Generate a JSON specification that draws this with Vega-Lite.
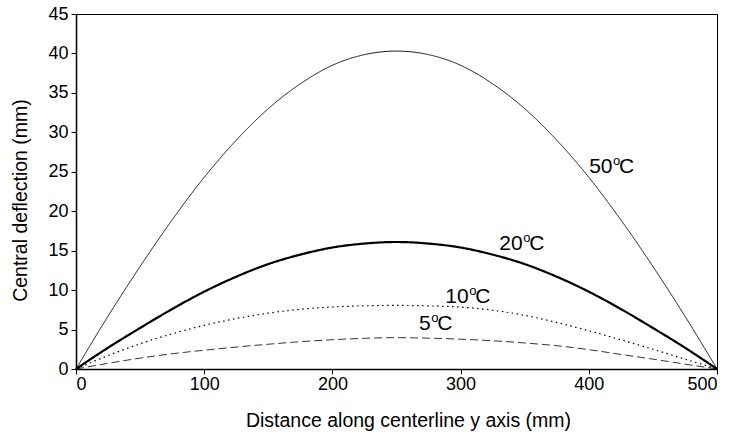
{
  "$schema": "https://vega.github.io/schema/vega-lite/v6.json",
  "width": 641,
  "height": 355,
  "autosize": {"type": "none"},
  "padding": {"left": 76, "top": 14, "right": 19, "bottom": 65},
  "background": "white",
  "config": {
    "font": "Liberation Sans",
    "view": {"stroke": "black", "strokeWidth": 1},
    "axis": {
      "grid": false,
      "domainColor": "black",
      "domainWidth": 1.5,
      "tickColor": "black",
      "tickWidth": 1,
      "tickSize": 5,
      "labelColor": "black",
      "titleColor": "black",
      "labelFontSize": 18,
      "titleFontSize": 19.5,
      "titleFontWeight": "normal",
      "labelFont": "Liberation Sans",
      "titleFont": "Liberation Sans"
    }
  },
  "datasets": {
    "curves": [
      {"x": 0, "d": 0, "series": "50"}, {"x": 25, "d": 6.7, "series": "50"}, {"x": 50, "d": 13.0, "series": "50"},
      {"x": 75, "d": 18.9, "series": "50"}, {"x": 100, "d": 24.3, "series": "50"}, {"x": 125, "d": 29.0, "series": "50"},
      {"x": 150, "d": 33.0, "series": "50"}, {"x": 175, "d": 36.15, "series": "50"}, {"x": 200, "d": 38.5, "series": "50"},
      {"x": 225, "d": 39.85, "series": "50"}, {"x": 250, "d": 40.3, "series": "50"}, {"x": 275, "d": 39.85, "series": "50"},
      {"x": 300, "d": 38.5, "series": "50"}, {"x": 325, "d": 36.15, "series": "50"}, {"x": 350, "d": 33.0, "series": "50"},
      {"x": 375, "d": 29.0, "series": "50"}, {"x": 400, "d": 24.3, "series": "50"}, {"x": 425, "d": 18.9, "series": "50"},
      {"x": 450, "d": 13.0, "series": "50"}, {"x": 475, "d": 6.7, "series": "50"}, {"x": 500, "d": 0, "series": "50"},

      {"x": 0, "d": 0, "series": "20"}, {"x": 25, "d": 2.7, "series": "20"}, {"x": 50, "d": 5.2, "series": "20"},
      {"x": 75, "d": 7.6, "series": "20"}, {"x": 100, "d": 9.8, "series": "20"}, {"x": 125, "d": 11.7, "series": "20"},
      {"x": 150, "d": 13.3, "series": "20"}, {"x": 175, "d": 14.5, "series": "20"}, {"x": 200, "d": 15.4, "series": "20"},
      {"x": 225, "d": 15.9, "series": "20"}, {"x": 250, "d": 16.1, "series": "20"}, {"x": 275, "d": 15.9, "series": "20"},
      {"x": 300, "d": 15.4, "series": "20"}, {"x": 325, "d": 14.5, "series": "20"}, {"x": 350, "d": 13.3, "series": "20"},
      {"x": 375, "d": 11.7, "series": "20"}, {"x": 400, "d": 9.8, "series": "20"}, {"x": 425, "d": 7.6, "series": "20"},
      {"x": 450, "d": 5.2, "series": "20"}, {"x": 475, "d": 2.7, "series": "20"}, {"x": 500, "d": 0, "series": "20"},

      {"x": 0, "d": 0, "series": "10"}, {"x": 25, "d": 1.7, "series": "10"}, {"x": 50, "d": 3.2, "series": "10"},
      {"x": 75, "d": 4.46, "series": "10"}, {"x": 100, "d": 5.53, "series": "10"}, {"x": 125, "d": 6.4, "series": "10"},
      {"x": 150, "d": 7.08, "series": "10"}, {"x": 175, "d": 7.57, "series": "10"}, {"x": 200, "d": 7.86, "series": "10"},
      {"x": 225, "d": 8.01, "series": "10"}, {"x": 250, "d": 8.06, "series": "10"}, {"x": 275, "d": 8.0, "series": "10"},
      {"x": 300, "d": 7.85, "series": "10"}, {"x": 325, "d": 7.45, "series": "10"}, {"x": 350, "d": 6.8, "series": "10"},
      {"x": 375, "d": 5.9, "series": "10"}, {"x": 400, "d": 4.85, "series": "10"}, {"x": 425, "d": 3.7, "series": "10"},
      {"x": 450, "d": 2.5, "series": "10"}, {"x": 475, "d": 1.25, "series": "10"}, {"x": 500, "d": 0, "series": "10"},

      {"x": 0, "d": 0, "series": "5"}, {"x": 25, "d": 0.72, "series": "5"}, {"x": 50, "d": 1.38, "series": "5"},
      {"x": 75, "d": 1.93, "series": "5"}, {"x": 100, "d": 2.38, "series": "5"}, {"x": 125, "d": 2.78, "series": "5"},
      {"x": 150, "d": 3.14, "series": "5"}, {"x": 175, "d": 3.46, "series": "5"}, {"x": 200, "d": 3.71, "series": "5"},
      {"x": 225, "d": 3.89, "series": "5"}, {"x": 250, "d": 3.97, "series": "5"}, {"x": 275, "d": 3.91, "series": "5"},
      {"x": 300, "d": 3.78, "series": "5"}, {"x": 325, "d": 3.58, "series": "5"}, {"x": 350, "d": 3.3, "series": "5"},
      {"x": 375, "d": 2.95, "series": "5"}, {"x": 400, "d": 2.45, "series": "5"}, {"x": 425, "d": 1.85, "series": "5"},
      {"x": 450, "d": 1.25, "series": "5"}, {"x": 475, "d": 0.62, "series": "5"}, {"x": 500, "d": 0, "series": "5"}
    ],
    "labels": [
      {"x": 418.5, "d": 24.85, "num": "50"},
      {"x": 348.4, "d": 15.06, "num": "20"},
      {"x": 306.3, "d": 8.41, "num": "10"},
      {"x": 276.7, "d": 4.89, "num": "5"}
    ]
  },
  "encoding": {
    "x": {
      "field": "x",
      "type": "quantitative",
      "scale": {"domain": [0, 500], "nice": false},
      "axis": {
        "title": "Distance along centerline y axis (mm)",
        "values": [0, 100, 200, 300, 400, 500],
        "labelPadding": 1,
        "titleX": 332,
        "titleY": 57,
        "titleBaseline": "alphabetic",
        "titleAlign": "center"
      }
    },
    "y": {
      "field": "d",
      "type": "quantitative",
      "scale": {"domain": [0, 45], "nice": false},
      "axis": {
        "title": "Central deflection (mm)",
        "values": [0, 5, 10, 15, 20, 25, 30, 35, 40, 45],
        "labelPadding": 3,
        "titleX": -50,
        "titleY": 186,
        "titleBaseline": "alphabetic",
        "titleAlign": "center",
        "titleAngle": -90
      }
    }
  },
  "layer": [
    {
      "data": {"name": "curves"},
      "mark": {"type": "line", "interpolate": "monotone", "color": "black"},
      "encoding": {
        "detail": {"field": "series"},
        "strokeWidth": {
          "field": "series",
          "type": "nominal",
          "scale": {"type": "ordinal", "domain": ["50", "20", "10", "5"], "range": [0.9, 2.2, 1.2, 0.8]},
          "legend": null
        },
        "strokeDash": {
          "field": "series",
          "type": "nominal",
          "scale": {"domain": ["50", "20", "10", "5"], "range": [[1, 0], [1, 0], [1.5, 3.5], [8, 4]]},
          "legend": null
        }
      }
    },
    {
      "data": {"name": "labels"},
      "mark": {"type": "text", "align": "right", "baseline": "alphabetic", "fontSize": 21, "color": "black"},
      "encoding": {"text": {"field": "num"}}
    },
    {
      "data": {"name": "labels"},
      "mark": {"type": "text", "align": "left", "baseline": "alphabetic", "fontSize": 13, "dx": 0.5, "dy": -8, "color": "black", "text": "o"},
      "encoding": {}
    },
    {
      "data": {"name": "labels"},
      "mark": {"type": "text", "align": "left", "baseline": "alphabetic", "fontSize": 21, "dx": 6.5, "color": "black", "text": "C"},
      "encoding": {}
    }
  ]
}
